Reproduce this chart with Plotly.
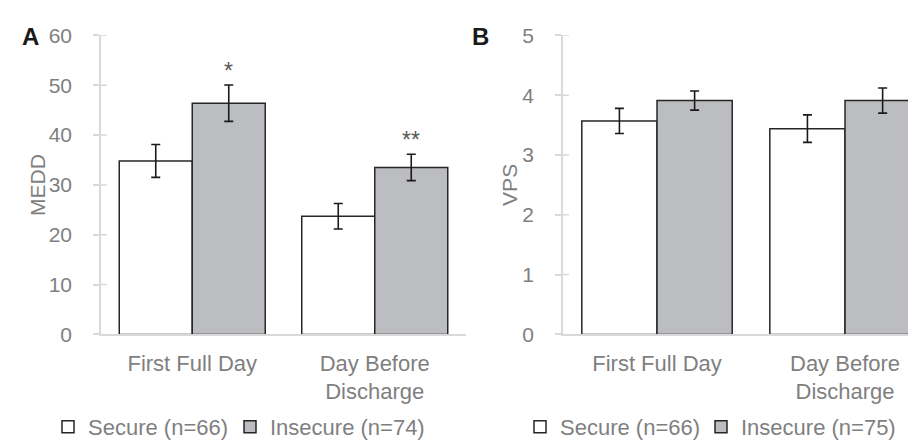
import plotly.graph_objects as go

categories = ["First Full Day", "Day Before<br>Discharge"]

medd_secure = [34.8, 23.7]
medd_secure_err = [3.3, 2.55]
medd_insecure = [46.4, 33.5]
medd_insecure_err = [3.65, 2.65]

vps_secure = [3.57, 3.44]
vps_secure_err = [0.21, 0.23]
vps_insecure = [3.91, 3.91]
vps_insecure_err = [0.16, 0.21]

names_a = ["Secure (n=66)", "Insecure (n=74)"]
names_b = ["Secure (n=66)", "Insecure (n=75)"]
significance = ["*", "**"]

medd_ticks = [0, 10, 20, 30, 40, 50, 60]
vps_ticks = [0, 1, 2, 3, 4, 5]

FONT = "Liberation Sans, Arial, sans-serif"
GRAY_TXT = "#7f7f7f"
AXIS_GRAY = "#d9d9d9"
EDGE = "#262626"
FILL_GRAY = "#bcbdc0"

fig = go.Figure()

def err(vals):
    return dict(type="data", array=vals, color="#1a1a1a", thickness=1.6, width=4.5)

fig.add_trace(go.Bar(x=categories, y=medd_secure, error_y=err(medd_secure_err), name=names_a[0],
                     marker=dict(color="white", line=dict(color=EDGE, width=1.5)),
                     xaxis="x", yaxis="y", legend="legend"))
fig.add_trace(go.Bar(x=categories, y=medd_insecure, error_y=err(medd_insecure_err), name=names_a[1],
                     marker=dict(color=FILL_GRAY, line=dict(color=EDGE, width=1.5)),
                     xaxis="x", yaxis="y", legend="legend2"))
fig.add_trace(go.Bar(x=categories, y=vps_secure, error_y=err(vps_secure_err), name=names_b[0],
                     marker=dict(color="white", line=dict(color=EDGE, width=1.5)),
                     xaxis="x2", yaxis="y2", legend="legend3"))
fig.add_trace(go.Bar(x=categories, y=vps_insecure, error_y=err(vps_insecure_err), name=names_b[1],
                     marker=dict(color=FILL_GRAY, line=dict(color=EDGE, width=1.5)),
                     xaxis="x2", yaxis="y2", legend="legend4"))

W, H = 916, 440
ydom = [1 - 334 / H, 1 - 28 / H]

xcommon = dict(type="category", showline=True, linecolor=AXIS_GRAY, linewidth=1.5, ticks="",
               showgrid=False, zeroline=False, tickfont=dict(family=FONT, size=22, color=GRAY_TXT),
               ticklabelstandoff=8, automargin=False)
ycommon = dict(showline=True, linecolor=AXIS_GRAY, linewidth=1.5, ticks="outside", ticklen=6,
               tickcolor=AXIS_GRAY, tickwidth=1.5, showgrid=False, zeroline=False,
               tickfont=dict(family=FONT, size=21, color=GRAY_TXT), ticklabelstandoff=17,
               automargin=False, domain=ydom)

legend_common = dict(orientation="h", xanchor="left", y=1 - 429 / H, yanchor="middle",
                     font=dict(family=FONT, size=22, color=GRAY_TXT),
                     bgcolor="rgba(0,0,0,0)")

fig.update_layout(
    width=W, height=H, margin=dict(l=0, r=0, t=0, b=0),
    paper_bgcolor="white", plot_bgcolor="white",
    barmode="group", bargap=0.2, bargroupgap=0,
    font=dict(family=FONT, size=20, color=GRAY_TXT),
    xaxis=dict(xcommon, domain=[93 / W, 458 / W], range=[-0.5, 1.5], anchor="y"),
    yaxis=dict(ycommon, range=[0, 60], tickvals=medd_ticks, anchor="x"),
    xaxis2=dict(xcommon, domain=[555 / W, 1.0], range=[-0.5, 1.42], anchor="y2"),
    yaxis2=dict(ycommon, range=[0, 5], tickvals=vps_ticks, anchor="x2"),
    legend=dict(legend_common, x=40 / W),
    legend2=dict(legend_common, x=222 / W),
    legend3=dict(legend_common, x=512 / W),
    legend4=dict(legend_common, x=693 / W),
    showlegend=True,
)

# inner halves of the crossing y ticks
shapes = []
for v in medd_ticks:
    shapes.append(dict(type="line", xref="x", yref="y", xsizemode="pixel", xanchor=-0.5,
                       x0=0, x1=6, y0=v, y1=v, line=dict(color=AXIS_GRAY, width=1.5), layer="below"))
for v in vps_ticks:
    shapes.append(dict(type="line", xref="x2", yref="y2", xsizemode="pixel", xanchor=-0.5,
                       x0=0, x1=6, y0=v, y1=v, line=dict(color=AXIS_GRAY, width=1.5), layer="below"))
fig.update_layout(shapes=shapes)

ann = []
for i, s in enumerate(significance):
    ann.append(dict(x=i + 0.2, y=medd_insecure[i] + medd_insecure_err[i], xref="x", yref="y",
                    text=s, showarrow=False, yanchor="bottom", yshift=-1,
                    font=dict(family=FONT, size=23, color="#595959")))
ann.append(dict(x=30 / W, y=(ydom[0] + ydom[1]) / 2, xref="paper", yref="paper", text="MEDD",
                xanchor="center", yanchor="middle",
                textangle=-90, showarrow=False, font=dict(family=FONT, size=21, color=GRAY_TXT)))
ann.append(dict(x=502 / W, y=(ydom[0] + ydom[1]) / 2, xref="paper", yref="paper", text="VPS",
                xanchor="center", yanchor="middle",
                textangle=-90, showarrow=False, font=dict(family=FONT, size=21, color=GRAY_TXT)))
ann.append(dict(x=22 / W, y=1 - 29 / H, xref="paper", yref="paper", text="<b>A</b>",
                xanchor="center", yanchor="middle",
                showarrow=False, font=dict(family=FONT, size=24, color="#1a1a1a")))
ann.append(dict(x=472 / W, y=1 - 29 / H, xref="paper", yref="paper", text="<b>B</b>",
                xanchor="center", yanchor="middle",
                showarrow=False, font=dict(family=FONT, size=24, color="#1a1a1a")))
fig.update_layout(annotations=ann)

fig.write_html("out.html")
